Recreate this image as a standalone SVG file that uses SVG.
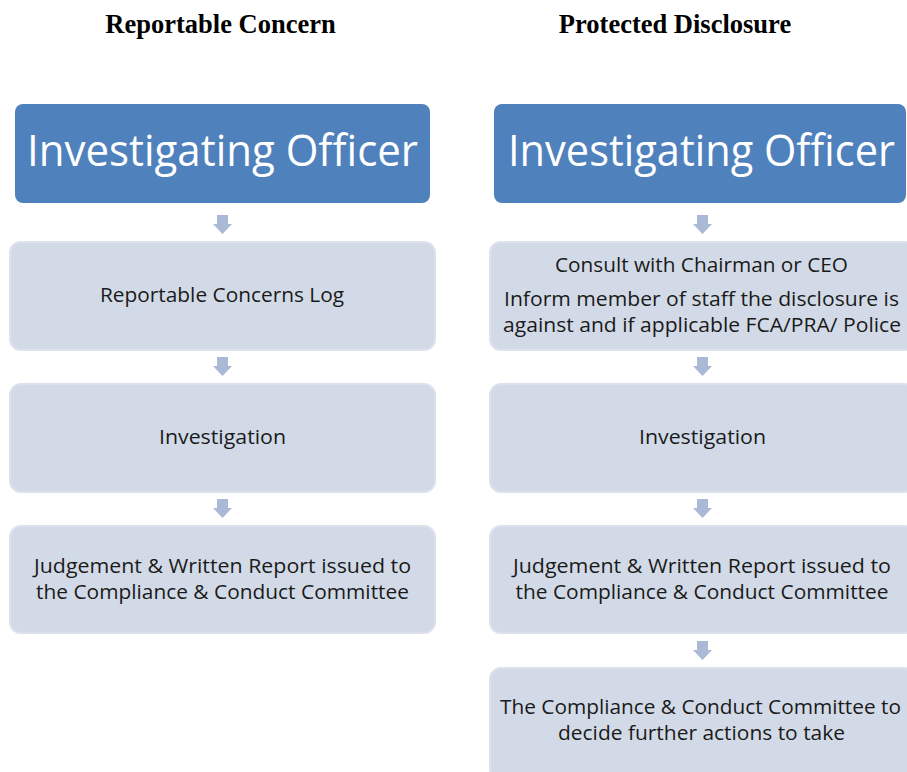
<svg xmlns="http://www.w3.org/2000/svg" width="907" height="772" viewBox="0 0 907 772">
  <defs>
    <style>
      .title { font-family: "Liberation Serif", "Times New Roman", serif; font-weight: bold; font-size: 26.5px; fill: #000; text-anchor: middle; }
      .head { fill: #4F81BD; }
      .headtxt { font-family: "Open Sans", "Liberation Sans", sans-serif; font-size: 43px; fill: #FFFFFF; text-anchor: middle; }
      .box { fill: #D3DAE7; stroke: #DCE1EB; stroke-width: 2; }
      .txt { font-family: "Open Sans", "Liberation Sans", sans-serif; font-size: 20px; fill: #1A1A1A; text-anchor: middle; }
      .arrow { fill: #A9B9D6; }
    </style>
  </defs>
  <rect width="907" height="772" fill="#FFFFFF"/>

  <text class="title" x="220.5" y="33">Reportable Concern</text>
  <text class="title" x="675" y="33">Protected Disclosure</text>

  <g id="connectors">
    <polygon class="arrow" points="217,215 228,215 228,224 232,224 222.5,234 213,224 217,224"/>
    <polygon class="arrow" points="217,357 228,357 228,366 232,366 222.5,376 213,366 217,366"/>
    <polygon class="arrow" points="217,499 228,499 228,508 232,508 222.5,518 213,508 217,508"/>
    <polygon class="arrow" points="697,215 708,215 708,224 712,224 702.5,234 693,224 697,224"/>
    <polygon class="arrow" points="697,357 708,357 708,366 712,366 702.5,376 693,366 697,366"/>
    <polygon class="arrow" points="697,499 708,499 708,508 712,508 702.5,518 693,508 697,508"/>
    <polygon class="arrow" points="697,641 708,641 708,650 712,650 702.5,660 693,650 697,650"/>
  </g>

  <g id="left-officer">
    <rect class="head" x="15" y="104" width="415" height="99" rx="8"/>
    <text class="headtxt" x="222.5" y="166" textLength="391" lengthAdjust="spacingAndGlyphs">Investigating Officer</text>
  </g>
  <g id="left-log">
    <rect class="box" x="10" y="242" width="425" height="108" rx="11"/>
    <text class="txt" x="222" y="302" textLength="244" lengthAdjust="spacingAndGlyphs">Reportable Concerns Log</text>
  </g>
  <g id="left-investigation">
    <rect class="box" x="10" y="384" width="425" height="108" rx="11"/>
    <text class="txt" x="222.5" y="444" textLength="127" lengthAdjust="spacingAndGlyphs">Investigation</text>
  </g>
  <g id="left-judgement">
    <rect class="box" x="10" y="526" width="425" height="107" rx="11"/>
    <text class="txt" x="222.5" y="573" textLength="377" lengthAdjust="spacingAndGlyphs">Judgement &amp; Written Report issued to</text>
    <text class="txt" x="222.5" y="599" textLength="373" lengthAdjust="spacingAndGlyphs">the Compliance &amp; Conduct Committee</text>
  </g>

  <g id="right-officer">
    <rect class="head" x="494" y="104" width="412" height="99" rx="8"/>
    <text class="headtxt" x="701.5" y="166" textLength="387" lengthAdjust="spacingAndGlyphs">Investigating Officer</text>
  </g>
  <g id="right-consult">
    <rect class="box" x="490" y="242" width="425" height="108" rx="11"/>
    <text class="txt" x="701.5" y="272" textLength="293" lengthAdjust="spacingAndGlyphs">Consult with Chairman or CEO</text>
    <text class="txt" x="701.5" y="306" textLength="395" lengthAdjust="spacingAndGlyphs">Inform member of staff the disclosure is</text>
    <text class="txt" x="702" y="332" textLength="398" lengthAdjust="spacingAndGlyphs">against and if applicable FCA/PRA/ Police</text>
  </g>
  <g id="right-investigation">
    <rect class="box" x="490" y="384" width="425" height="108" rx="11"/>
    <text class="txt" x="702.5" y="444" textLength="127" lengthAdjust="spacingAndGlyphs">Investigation</text>
  </g>
  <g id="right-judgement">
    <rect class="box" x="490" y="526" width="425" height="107" rx="11"/>
    <text class="txt" x="702" y="573" textLength="378" lengthAdjust="spacingAndGlyphs">Judgement &amp; Written Report issued to</text>
    <text class="txt" x="702" y="599" textLength="373" lengthAdjust="spacingAndGlyphs">the Compliance &amp; Conduct Committee</text>
  </g>
  <g id="right-committee">
    <rect class="box" x="490" y="668" width="425" height="112" rx="11"/>
    <text class="txt" x="700.5" y="714" textLength="401" lengthAdjust="spacingAndGlyphs">The Compliance &amp; Conduct Committee to</text>
    <text class="txt" x="701.5" y="740" textLength="287" lengthAdjust="spacingAndGlyphs">decide further actions to take</text>
  </g>
</svg>
